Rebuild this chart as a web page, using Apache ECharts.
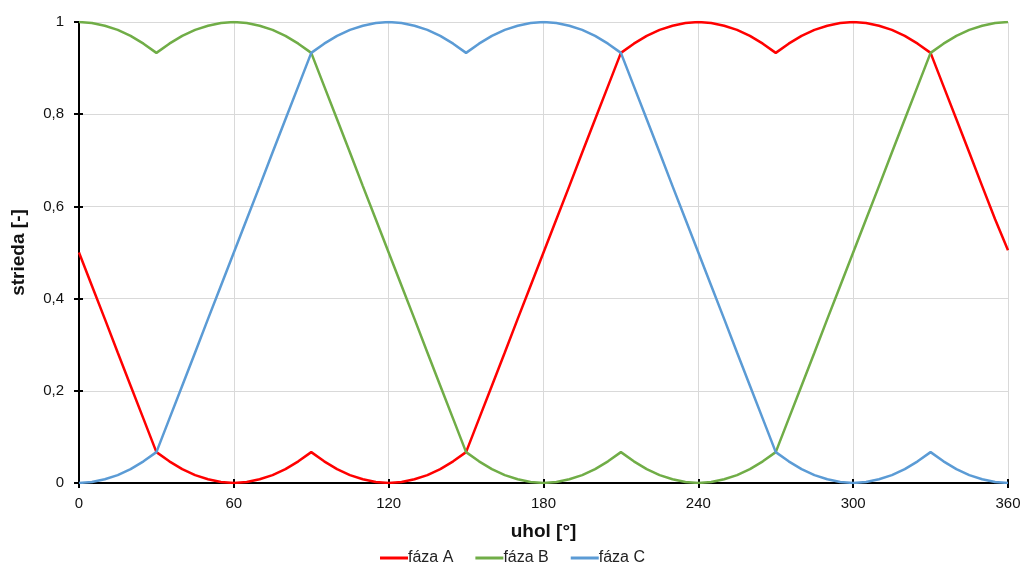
<!DOCTYPE html>
<html>
<head>
<meta charset="utf-8">
<script src="https://cdn.jsdelivr.net/npm/echarts@6/dist/echarts.min.js"></script>
<style>
  html, body { margin: 0; padding: 0; background: #fff; }
  #chart { width: 1025px; height: 568px; }
</style>
</head>
<body>
<div id="chart"></div>
<script>
// Electrical angle in degrees, 5° steps
const angles = [];
for (let a = 0; a <= 360; a += 5) angles.push(a);

// Duty cycles of the three phases
const phaseA = [
  0.5, 0.428, 0.356, 0.283, 0.211, 0.139, 0.067,
  0.047, 0.030, 0.017, 0.008, 0.002, 0,
  0.002, 0.008, 0.017, 0.030, 0.047, 0.067,
  0.047, 0.030, 0.017, 0.008, 0.002, 0,
  0.002, 0.008, 0.017, 0.030, 0.047, 0.067,
  0.139, 0.211, 0.283, 0.356, 0.428, 0.5, 0.572, 0.644, 0.717, 0.789, 0.861, 0.933,
  0.953, 0.970, 0.983, 0.992, 0.998, 1,
  0.998, 0.992, 0.983, 0.970, 0.953, 0.933,
  0.953, 0.970, 0.983, 0.992, 0.998, 1,
  0.998, 0.992, 0.983, 0.970, 0.953, 0.933,
  0.861, 0.789, 0.717, 0.644, 0.572, 0.505
];
const phaseB = [
  1, 0.998, 0.992, 0.983, 0.970, 0.953, 0.933,
  0.953, 0.970, 0.983, 0.992, 0.998, 1,
  0.998, 0.992, 0.983, 0.970, 0.953, 0.933,
  0.861, 0.789, 0.717, 0.644, 0.572, 0.5, 0.428, 0.356, 0.283, 0.211, 0.139, 0.067,
  0.047, 0.030, 0.017, 0.008, 0.002, 0,
  0.002, 0.008, 0.017, 0.030, 0.047, 0.067,
  0.047, 0.030, 0.017, 0.008, 0.002, 0,
  0.002, 0.008, 0.017, 0.030, 0.047, 0.067,
  0.139, 0.211, 0.283, 0.356, 0.428, 0.5, 0.572, 0.644, 0.717, 0.789, 0.861, 0.933,
  0.953, 0.970, 0.983, 0.992, 0.998, 1
];
const phaseC = [
  0, 0.002, 0.008, 0.017, 0.030, 0.047, 0.067,
  0.139, 0.211, 0.283, 0.356, 0.428, 0.5, 0.572, 0.644, 0.717, 0.789, 0.861, 0.933,
  0.953, 0.970, 0.983, 0.992, 0.998, 1,
  0.998, 0.992, 0.983, 0.970, 0.953, 0.933,
  0.953, 0.970, 0.983, 0.992, 0.998, 1,
  0.998, 0.992, 0.983, 0.970, 0.953, 0.933,
  0.861, 0.789, 0.717, 0.644, 0.572, 0.5, 0.428, 0.356, 0.283, 0.211, 0.139, 0.067,
  0.047, 0.030, 0.017, 0.008, 0.002, 0,
  0.002, 0.008, 0.017, 0.030, 0.047, 0.067,
  0.047, 0.030, 0.017, 0.008, 0.002, 0
];

const seriesNames = ['fáza A', 'fáza B', 'fáza C'];
const seriesColors = ['#ff0000', '#70ad47', '#5b9bd5'];
const seriesValues = [phaseA, phaseB, phaseC];

const FONT = 'Liberation Sans, Arial, sans-serif';
const chart = echarts.init(document.getElementById('chart'), null, { renderer: 'canvas' });

const pairs = vals => angles.map((a, i) => [a, vals[i]]);

chart.setOption({
  animation: false,
  grid: { left: 79, right: 17, top: 22, bottom: 85 },
  legend: {
    top: 545,
    left: 'center',
    itemGap: 22,
    itemWidth: 28,
    itemHeight: 3,
    icon: 'rect',
    textStyle: { fontFamily: FONT, fontSize: 16, color: '#222', padding: [0, 0, 0, -5] },
    data: seriesNames
  },
  xAxis: [
    {
      type: 'value', min: 0, max: 360, interval: 60,
      name: 'uhol [°]', nameLocation: 'middle', nameGap: 39,
      nameTextStyle: { fontFamily: FONT, fontSize: 19, fontWeight: 'bold', color: '#111' },
      axisLine: { show: true, lineStyle: { color: '#000', width: 2 } },
      axisTick: { show: true, length: 5, lineStyle: { color: '#000', width: 2 } },
      axisLabel: { fontFamily: FONT, fontSize: 15, color: '#111', margin: 13 },
      splitLine: { show: true, lineStyle: { color: '#d9d9d9', width: 1 } }
    },
    {
      type: 'value', min: 0, max: 360, interval: 60, position: 'bottom',
      axisLine: { show: false },
      axisTick: { show: true, inside: true, length: 4, lineStyle: { color: '#000', width: 2 } },
      axisLabel: { show: false },
      splitLine: { show: false }
    }
  ],
  yAxis: [
    {
      type: 'value', min: 0, max: 1, interval: 0.2,
      name: 'strieda [-]', nameLocation: 'middle', nameGap: 51, nameRotate: 90,
      nameTextStyle: { fontFamily: FONT, fontSize: 19, fontWeight: 'bold', color: '#111' },
      axisLine: { show: true, lineStyle: { color: '#000', width: 2 } },
      axisTick: { show: true, length: 5, lineStyle: { color: '#000', width: 2 } },
      axisLabel: {
        fontFamily: FONT, fontSize: 15, color: '#111', margin: 15,
        formatter: v => String(Math.round(v * 10) / 10).replace('.', ',')
      },
      splitLine: { show: true, lineStyle: { color: '#d9d9d9', width: 1 } }
    },
    {
      type: 'value', min: 0, max: 1, interval: 0.2, position: 'left',
      axisLine: { show: false },
      axisTick: { show: true, inside: true, length: 4, lineStyle: { color: '#000', width: 2 } },
      axisLabel: { show: false },
      splitLine: { show: false }
    }
  ],
  series: seriesNames.map((name, k) => ({
    name,
    type: 'line',
    xAxisIndex: 0,
    yAxisIndex: 0,
    data: pairs(seriesValues[k]),
    smooth: false,
    showSymbol: false,
    symbol: 'none',
    color: seriesColors[k],
    lineStyle: { color: seriesColors[k], width: 2.5 },
    z: 3
  }))
});
</script>
</body>
</html>
